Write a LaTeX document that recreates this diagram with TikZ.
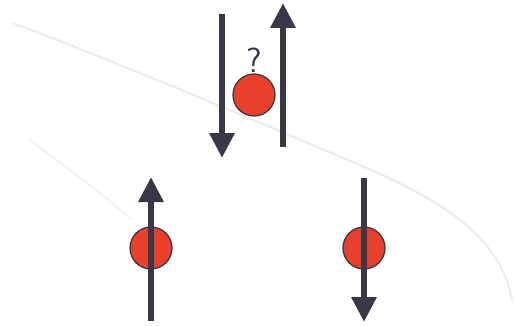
\documentclass[tikz,border=0pt]{standalone}
\usetikzlibrary{arrows.meta}
\definecolor{spinline}{HTML}{3A3848}
\definecolor{electron}{HTML}{E8402A}
\definecolor{paperfold}{HTML}{EBEBEE}
\tikzset{
  spin/.style={draw=spinline, line width=6.5pt,
    -{Triangle[width=24pt,length=25pt]}},
  particle/.style={circle, draw=spinline, line width=1.3pt, fill=electron,
    minimum size=42pt, inner sep=0pt},
}
\begin{document}
\begin{tikzpicture}[x=1pt,y=-1pt]
  \useasboundingbox[fill=white] (0,0) rectangle (516,326);
  % faint fold lines of the page
  \draw[paperfold, line width=2pt]
    (13,23) .. controls (150,75) and (300,140) .. (360,165)
    .. controls (440,200) and (500,235) .. (512,300);
  \draw[paperfold!70!white, line width=2pt]
    (30,140) .. controls (70,170) and (110,200) .. (132,220);
  % top: undetermined spin
  \coordinate (tla) at (222,14);
  \coordinate (tlb) at (222,158);
  \coordinate (tra) at (283,147);
  \coordinate (trb) at (283,3);
  \draw[spin] (tla) -- (tlb);
  \draw[spin] (tra) -- (trb);
  \node[particle] (top) at (254,95) {};
  \node[font=\sffamily\fontsize{35}{35}\selectfont, text=spinline,
        anchor=south, inner sep=0pt] (q) at (254,73) {?};
  % bottom left: spin up
  \node[particle] (left) at (151,248) {};
  \coordinate (la) at (151,321);
  \coordinate (lb) at (151,177);
  \draw[spin] (la) -- (lb);
  % bottom right: spin down
  \node[particle] (right) at (364,248) {};
  \coordinate (ra) at (364,178);
  \coordinate (rb) at (364,322);
  \draw[spin] (ra) -- (rb);
\end{tikzpicture}
\end{document}
